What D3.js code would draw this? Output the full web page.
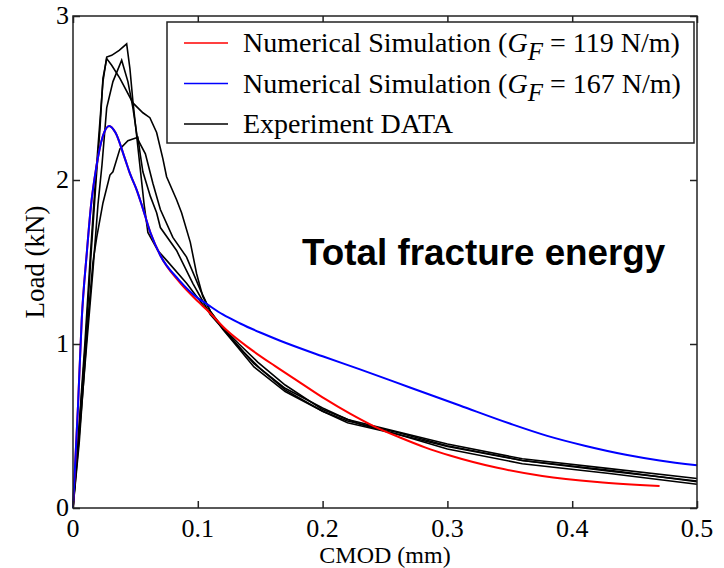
<!DOCTYPE html>
<html>
<head>
<meta charset="utf-8">
<script src="https://cdn.jsdelivr.net/npm/d3@7"></script>
<style>
  body { margin: 0; background: #fff; }
  svg { display: block; }
</style>
</head>
<body>
<div class="chart"></div>
<script>
// 坐标轴刻度
const xTicks = [0, 0.1, 0.2, 0.3, 0.4, 0.5]
const yTicks = [0, 1, 2, 3]

// 数值模拟 GF = 119 N/m
const sim119 = [
  [0, 0], [0.004, 0.62], [0.007, 1.15], [0.011, 1.55], [0.0145, 1.85], [0.0185, 2.07],
  [0.024, 2.27], [0.029, 2.33], [0.034, 2.29], [0.0416, 2.13], [0.0456, 2.04], [0.051, 1.94],
  [0.055, 1.85], [0.062, 1.68], [0.07, 1.54], [0.085, 1.38], [0.1, 1.26], [0.107, 1.21],
  [0.123, 1.085], [0.142, 0.97], [0.162, 0.865], [0.182, 0.765], [0.202, 0.665], [0.222, 0.575],
  [0.242, 0.495], [0.262, 0.43], [0.282, 0.37], [0.302, 0.32], [0.34, 0.245], [0.376, 0.195],
  [0.42, 0.158], [0.47, 0.134]
]

// 数值模拟 GF = 167 N/m
const sim167 = [
  [0, 0], [0.004, 0.62], [0.007, 1.15], [0.011, 1.55], [0.0145, 1.85], [0.0185, 2.07],
  [0.024, 2.27], [0.029, 2.33], [0.034, 2.29], [0.0416, 2.13], [0.0456, 2.04], [0.051, 1.94],
  [0.055, 1.85], [0.062, 1.68], [0.07, 1.54], [0.085, 1.39], [0.1, 1.28], [0.107, 1.245],
  [0.12, 1.18], [0.134, 1.125], [0.15, 1.07], [0.166, 1.02], [0.2, 0.925], [0.23, 0.845],
  [0.27, 0.735], [0.31, 0.625], [0.35, 0.515], [0.38, 0.44], [0.41, 0.38], [0.443, 0.325],
  [0.47, 0.29], [0.5, 0.26]
]

// 试验数据
const exp1 = [
  [0, 0], [0.003, 0.3], [0.0095, 1.0], [0.014, 1.55], [0.018, 2.0], [0.021, 2.3], [0.024, 2.6],
  [0.027, 2.75], [0.031, 2.76], [0.037, 2.79], [0.043, 2.83], [0.0456, 2.68], [0.048, 2.48],
  [0.051, 2.27], [0.054, 2.06], [0.057, 1.85], [0.06, 1.68], [0.068, 1.57], [0.075, 1.51],
  [0.091, 1.37], [0.105, 1.23], [0.12, 1.1], [0.132, 0.99], [0.145, 0.88], [0.17, 0.73], [0.2, 0.61],
  [0.22, 0.54], [0.26, 0.465], [0.3, 0.39], [0.36, 0.3], [0.43, 0.24], [0.5, 0.18]
]
const exp2 = [
  [0, 0], [0.003, 0.3], [0.01, 1.0], [0.0145, 1.55], [0.0185, 2.0], [0.0215, 2.3], [0.024, 2.62],
  [0.027, 2.74], [0.031, 2.7], [0.0376, 2.62], [0.048, 2.47], [0.056, 2.41], [0.0616, 2.38],
  [0.067, 2.29], [0.072, 2.13], [0.075, 2.02], [0.083, 1.88], [0.087, 1.8], [0.094, 1.62],
  [0.099, 1.43], [0.104, 1.29], [0.11, 1.2], [0.12, 1.09], [0.132, 0.98], [0.145, 0.86], [0.17, 0.71],
  [0.2, 0.59], [0.22, 0.52], [0.26, 0.45], [0.3, 0.375], [0.36, 0.29], [0.43, 0.225], [0.5, 0.165]
]
const exp3 = [
  [0, 0], [0.004, 0.35], [0.011, 1.0], [0.016, 1.45], [0.02, 1.85], [0.0232, 2.09], [0.027, 2.44],
  [0.032, 2.6], [0.039, 2.73], [0.044, 2.6], [0.048, 2.44], [0.0517, 2.25], [0.058, 2.16],
  [0.064, 1.98], [0.07, 1.82], [0.08, 1.65], [0.091, 1.53], [0.102, 1.33], [0.11, 1.2],
  [0.12, 1.1], [0.133, 1.0], [0.148, 0.89], [0.17, 0.75], [0.2, 0.6], [0.23, 0.51], [0.26, 0.45],
  [0.3, 0.36], [0.36, 0.27], [0.43, 0.21], [0.5, 0.145]
]
const exp4 = [
  [0, 0], [0.005, 0.4], [0.012, 1.15], [0.016, 1.5], [0.019, 1.65], [0.024, 1.86], [0.0296, 2.03],
  [0.032, 2.05], [0.0376, 2.19], [0.044, 2.24], [0.052, 2.26], [0.054, 2.15], [0.056, 2.05],
  [0.062, 1.9], [0.067, 1.8], [0.07, 1.71], [0.083, 1.57], [0.096, 1.37], [0.11, 1.18],
  [0.125, 1.05], [0.137, 0.95], [0.15, 0.85], [0.17, 0.72], [0.2, 0.59], [0.22, 0.53], [0.26, 0.46],
  [0.3, 0.38], [0.36, 0.29], [0.43, 0.23], [0.5, 0.16]
]

const legendItems = [
  { color: 'red', value: '119' },
  { color: 'blue', value: '167' },
  { color: 'black', label: 'Experiment DATA' }
]

const width = 724
const height = 568
const margin = { top: 16, right: 27, bottom: 60, left: 73 }
const serif = '"Liberation Serif", "Times New Roman", serif'

const svg = d3.select('.chart').append('svg')
  .attr('width', width)
  .attr('height', height)

const x = d3.scaleLinear().domain([0, 0.5]).range([margin.left, width - margin.right])
const y = d3.scaleLinear().domain([0, 3]).range([height - margin.bottom, margin.top])

const line = d3.line().x(d => x(d[0])).y(d => y(d[1]))
const smooth = d3.line().x(d => x(d[0])).y(d => y(d[1])).curve(d3.curveMonotoneX)

// 曲线
const plot = svg.append('g').attr('fill', 'none')
plot.selectAll('path.exp')
  .data([exp1, exp2, exp3, exp4])
  .join('path')
  .attr('class', 'exp')
  .attr('d', line)
  .attr('stroke', 'black')
  .attr('stroke-width', 1.6)

plot.append('path').attr('d', smooth(sim119)).attr('stroke', 'red').attr('stroke-width', 2)
plot.append('path').attr('d', smooth(sim167)).attr('stroke', 'blue').attr('stroke-width', 2)

// 坐标框和刻度（朝内）
const frame = svg.append('g').attr('stroke', '#222').attr('stroke-width', 1.5)
frame.append('rect')
  .attr('x', x(0)).attr('y', y(3))
  .attr('width', x(0.5) - x(0)).attr('height', y(0) - y(3))
  .attr('fill', 'none')

const xAxis = d3.axisBottom(x).tickValues(xTicks).tickSize(-7).tickFormat('')
const xAxisTop = d3.axisTop(x).tickValues(xTicks).tickSize(-7).tickFormat('')
const yAxis = d3.axisLeft(y).tickValues(yTicks).tickSize(-7).tickFormat('')
const yAxisRight = d3.axisRight(y).tickValues(yTicks).tickSize(-7).tickFormat('')

svg.append('g').attr('transform', `translate(0,${y(0)})`).call(xAxis)
svg.append('g').attr('transform', `translate(0,${y(3)})`).call(xAxisTop)
svg.append('g').attr('transform', `translate(${x(0)},0)`).call(yAxis)
svg.append('g').attr('transform', `translate(${x(0.5)},0)`).call(yAxisRight)
svg.selectAll('.domain').remove()
svg.selectAll('.tick line').attr('stroke', '#222').attr('stroke-width', 1.5)

// 刻度标签
svg.append('g').selectAll('text')
  .data(xTicks)
  .join('text')
  .attr('x', d => x(d))
  .attr('y', y(0) + 29)
  .attr('text-anchor', 'middle')
  .style('font-family', serif)
  .style('font-size', '26px')
  .text(d => d === 0 ? '0' : d3.format('.1f')(d))

svg.append('g').selectAll('text')
  .data(yTicks)
  .join('text')
  .attr('x', x(0) - 4)
  .attr('y', d => y(d) + 8)
  .attr('text-anchor', 'end')
  .style('font-family', serif)
  .style('font-size', '26px')
  .text(d => d)

// 轴标题
svg.append('text')
  .attr('x', x(0.25))
  .attr('y', 563)
  .attr('text-anchor', 'middle')
  .style('font-family', serif)
  .style('font-size', '24px')
  .text('CMOD (mm)')

svg.append('text')
  .attr('transform', `translate(44,${(y(0) + y(3)) / 2}) rotate(-90)`)
  .attr('text-anchor', 'middle')
  .style('font-family', serif)
  .style('font-size', '27px')
  .text('Load (kN)')

// 图例
const legend = svg.append('g')
legend.append('rect')
  .attr('x', 167).attr('y', 22)
  .attr('width', 527).attr('height', 121)
  .attr('fill', 'white')
  .attr('stroke', '#222')
  .attr('stroke-width', 1.5)

const rows = legend.selectAll('g.row')
  .data(legendItems)
  .join('g')
  .attr('class', 'row')
  .attr('transform', (d, i) => `translate(0,${43 + i * 40.5})`)

rows.append('line')
  .attr('x1', 184).attr('x2', 228)
  .attr('stroke', d => d.color)
  .attr('stroke-width', 1.6)

const labels = rows.append('text')
  .attr('x', 243)
  .attr('y', 9)
  .style('font-family', serif)
  .style('font-size', '28px')

labels.each(function (d) {
  const t = d3.select(this)
  if (d.label) {
    t.text(d.label)
    return
  }
  t.append('tspan').text('Numerical Simulation (')
  t.append('tspan').style('font-style', 'italic').text('G')
  t.append('tspan').style('font-style', 'italic').style('font-size', '25px').attr('dy', 8).text('F')
  t.append('tspan').attr('dy', -8).text(` = ${d.value} N/m)`)
})

// 注释文字
svg.append('text')
  .attr('x', 302)
  .attr('y', 265)
  .style('font-family', '"Liberation Sans", Arial, sans-serif')
  .style('font-weight', 'bold')
  .style('font-size', '36.8px')
  .text('Total fracture energy')
</script>
</body>
</html>
